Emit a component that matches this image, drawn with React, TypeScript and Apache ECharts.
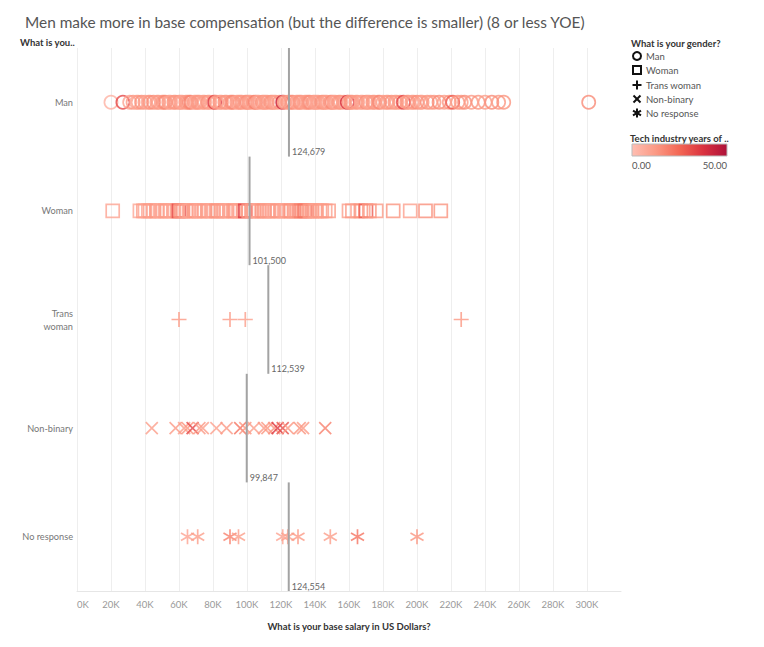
import React, { useEffect, useRef } from "react";
import * as echarts from "echarts";

const TITLE = "Men make more in base compensation (but the difference is smaller) (8 or less YOE)";
const categories = ["Man", "Woman", "Trans\nwoman", "Non-binary", "No response"];
const legendNames = ["Man", "Woman", "Trans woman", "Non-binary", "No response"];

// [salary in US$, tech industry years]
const manData: number[][] = [
  [20000, 4], [27000, 32], [31000, 9], [33000, 12], [35000, 8], [36000, 10], [38000, 14], [40000, 11],
  [42000, 9], [43000, 13], [45000, 15], [47000, 10], [48000, 12], [50000, 9], [51000, 14], [52000, 16],
  [54000, 11], [55000, 9], [57000, 13], [58000, 12], [60000, 14], [61000, 10], [62000, 9], [64000, 12],
  [65000, 11], [66000, 15], [67000, 18], [69000, 10], [70000, 9], [71000, 13], [72000, 12], [74000, 10],
  [75000, 11], [77000, 14], [78000, 9], [80000, 12], [81000, 36], [82000, 11], [84000, 13], [85000, 10],
  [87000, 14], [88000, 12], [90000, 11], [91000, 15], [92000, 16], [94000, 10], [95000, 9], [96000, 13],
  [97000, 12], [99000, 11], [100000, 15], [101000, 12], [102000, 10], [104000, 14], [105000, 19], [106000, 11],
  [107000, 9], [109000, 13], [110000, 12], [111000, 10], [112000, 11], [114000, 14], [115000, 13], [116000, 10],
  [117000, 9], [119000, 12], [121000, 42], [122000, 11], [124000, 13], [125000, 10], [126000, 12], [127000, 15],
  [129000, 11], [130000, 9], [131000, 14], [132000, 12], [134000, 10], [135000, 11], [136000, 13], [137000, 15],
  [139000, 12], [140000, 11], [141000, 9], [142000, 10], [144000, 14], [145000, 13], [146000, 11], [147000, 10],
  [149000, 12], [150000, 16], [151000, 10], [152000, 9], [154000, 13], [155000, 12], [157000, 11], [159000, 38],
  [160000, 10], [161000, 14], [162000, 13], [164000, 11], [165000, 12], [167000, 10], [168000, 9], [170000, 15],
  [171000, 11], [172000, 10], [174000, 13], [175000, 12], [177000, 11], [178000, 17], [180000, 10], [182000, 12],
  [183000, 11], [185000, 14], [187000, 12], [188000, 10], [190000, 13], [192000, 33], [194000, 12], [195000, 13],
  [197000, 10], [198000, 11], [200000, 15], [202000, 12], [203000, 10], [206000, 14], [208000, 11], [210000, 12],
  [213000, 16], [216000, 11], [219000, 13], [221000, 28], [224000, 13], [226000, 11], [228000, 15], [232000, 12],
  [236000, 14], [240000, 11], [244000, 16], [248000, 13], [251000, 14], [301000, 16],
];
const womanData: number[][] = [
  [21000, 9], [37000, 8], [39000, 11], [40000, 10], [42000, 9], [43000, 12], [45000, 10], [47000, 13],
  [49000, 8], [50000, 9], [52000, 11], [53000, 12], [55000, 10], [57000, 9], [59000, 13], [60000, 32],
  [61000, 14], [62000, 15], [64000, 11], [66000, 10], [67000, 9], [69000, 12], [70000, 13], [72000, 10],
  [73000, 9], [75000, 11], [77000, 12], [79000, 10], [80000, 9], [82000, 13], [83000, 14], [85000, 11],
  [86000, 12], [88000, 10], [90000, 9], [92000, 12], [93000, 13], [95000, 10], [96000, 9], [98000, 12],
  [99000, 36], [101000, 13], [103000, 11], [104000, 12], [106000, 10], [107000, 9], [109000, 12], [110000, 14],
  [112000, 11], [113000, 12], [115000, 10], [116000, 9], [118000, 13], [120000, 12], [122000, 10], [123000, 9],
  [125000, 12], [126000, 14], [128000, 11], [129000, 12], [131000, 15], [132000, 18], [134000, 22], [135000, 20],
  [137000, 12], [138000, 13], [140000, 11], [141000, 10], [143000, 12], [144000, 11], [146000, 10], [148000, 12],
  [160000, 11], [162000, 12], [165000, 10], [167000, 14], [170000, 28], [172000, 13], [176000, 12], [186000, 14],
  [196000, 10], [205000, 15], [214000, 14],
];
const transWomanData: number[][] = [[60000, 13], [90000, 12], [99000, 11], [226000, 13]];
const nonBinaryData: number[][] = [
  [44000, 11], [58000, 12], [63000, 11], [65000, 13], [68000, 32], [72000, 12], [74000, 11], [82000, 10],
  [88000, 12], [96000, 22], [99000, 13], [104000, 11], [110000, 12], [112000, 13], [116000, 14], [118000, 36],
  [121000, 30], [124000, 13], [131000, 14], [133000, 12], [146000, 19],
];
const noResponseData: number[][] = [
  [65000, 9], [71000, 11], [90000, 19], [95000, 11], [121000, 9], [124000, 10], [130000, 12],
  [149000, 11], [165000, 22], [200000, 14],
];
const groups = [manData, womanData, transWomanData, nonBinaryData, noResponseData];
const shapes = ["circle", "square", "plus", "cross", "asterisk"];

// reference lines (average per gender)
const refValues = [124679, 101500, 112539, 99847, 124554];

const xTicks = [0, 20000, 40000, 60000, 80000, 100000, 120000, 140000, 160000, 180000, 200000, 220000, 240000, 260000, 280000, 300000];
const palette = ["#ffbeb2", "#fb9984", "#f36754", "#da323f", "#ae123a"];
const FONT = "Lato, 'Noto Sans', sans-serif";

function shapePath(shape: string, cx: number, cy: number, r: number): string {
  if (shape === "plus") return `M${cx - r},${cy}L${cx + r},${cy}M${cx},${cy - r}L${cx},${cy + r}`;
  if (shape === "cross") {
    const d = r * 0.8;
    return `M${cx - d},${cy - d}L${cx + d},${cy + d}M${cx - d},${cy + d}L${cx + d},${cy - d}`;
  }
  const dx = r * 0.87, dy = r * 0.5;
  return `M${cx},${cy - r}L${cx},${cy + r}M${cx - dx},${cy - dy}L${cx + dx},${cy + dy}M${cx - dx},${cy + dy}L${cx + dx},${cy - dy}`;
}

function markerRenderer(shape: string) {
  return (params: any, api: any) => {
    const p = api.coord([api.value(0), api.value(1)]);
    const c = api.visual("color") || "#f36754";
    const style = { fill: "transparent", stroke: c, lineWidth: 1.7, opacity: 0.8 };
    if (shape === "circle") {
      return { type: "circle", shape: { cx: p[0], cy: p[1], r: 6.6 }, style };
    }
    if (shape === "square") {
      return { type: "rect", shape: { x: p[0] - 6.5, y: p[1] - 6.5, width: 13, height: 13 }, style };
    }
    return { type: "path", shape: { pathData: shapePath(shape, p[0], p[1], 7.5) }, style };
  };
}

function refRenderer(params: any, api: any) {
  const v = api.value(0);
  const p = api.coord([v, api.value(1)]);
  const bh = api.size([0, 1])[1];
  return {
    type: "group",
    children: [
      { type: "line", shape: { x1: p[0], y1: p[1] - bh / 2, x2: p[0], y2: p[1] + bh / 2 }, style: { stroke: "#a3a3a3", lineWidth: 2 } },
      {
        type: "text",
        x: p[0] + 3,
        y: p[1] + bh / 2 - 5,
        style: { text: Math.round(v).toLocaleString("en-US"), fill: "#666", fontSize: 9, fontFamily: FONT, verticalAlign: "middle", align: "left" },
      },
    ],
  };
}

export default function App() {
  const ref = useRef<HTMLDivElement>(null);
  useEffect(() => {
    if (!ref.current) return;
    const chart = echarts.init(ref.current, undefined, { renderer: "svg" });
    const markerSeries = groups.map((g, gi) => ({
      type: "custom",
      name: legendNames[gi],
      renderItem: markerRenderer(shapes[gi]),
      data: g.map((d) => [d[0], gi, d[1]]),
      encode: { x: 0, y: 1 },
      z: 2,
    }));
    const splitColors = xTicks.map(() => "#eeeeee");
    splitColors.push("transparent");
    const legendY = [56, 70, 85, 99, 113];
    const legendGraphics: any[] = [];
    legendY.forEach((y, i) => {
      const cx = 637;
      const st = { stroke: "#111", lineWidth: 2, fill: "transparent" };
      if (i === 0) legendGraphics.push({ type: "circle", shape: { cx, cy: y, r: 4 }, style: st });
      else if (i === 1) legendGraphics.push({ type: "rect", shape: { x: cx - 4, y: y - 4, width: 8, height: 8 }, style: st });
      else if (i === 2) {
        legendGraphics.push({ type: "line", shape: { x1: cx - 4.5, y1: y, x2: cx + 4.5, y2: y }, style: st });
        legendGraphics.push({ type: "line", shape: { x1: cx, y1: y - 4.5, x2: cx, y2: y + 4.5 }, style: st });
      } else if (i === 3) {
        legendGraphics.push({ type: "line", shape: { x1: cx - 3.5, y1: y - 3.5, x2: cx + 3.5, y2: y + 3.5 }, style: st });
        legendGraphics.push({ type: "line", shape: { x1: cx - 3.5, y1: y + 3.5, x2: cx + 3.5, y2: y - 3.5 }, style: st });
      } else {
        legendGraphics.push({ type: "line", shape: { x1: cx, y1: y - 4.5, x2: cx, y2: y + 4.5 }, style: st });
        legendGraphics.push({ type: "line", shape: { x1: cx - 4, y1: y - 2.3, x2: cx + 4, y2: y + 2.3 }, style: st });
        legendGraphics.push({ type: "line", shape: { x1: cx - 4, y1: y + 2.3, x2: cx + 4, y2: y - 2.3 }, style: st });
      }
      legendGraphics.push({
        type: "text", x: 646, y,
        style: { text: legendNames[i], fill: "#555", fontSize: 9.5, fontFamily: FONT, verticalAlign: "middle" },
      });
    });

    chart.setOption({
      animation: false,
      backgroundColor: "#ffffff",
      title: {
        text: TITLE, left: 20, top: 9,
        textStyle: { fontSize: 15.4, fontWeight: "normal", color: "#555", fontFamily: FONT },
      },
      grid: { left: 77, right: 143, top: 48, bottom: 56, containLabel: false },
      xAxis: {
        type: "value", min: 0, max: 320000, interval: 20000,
        axisLine: { show: true, lineStyle: { color: "#e6e6e6", width: 1 } },
        axisTick: { show: false },
        splitLine: { show: true, lineStyle: { color: splitColors, width: 1 } },
        axisLabel: {
          color: "#999", fontSize: 9.5, fontFamily: FONT, margin: 8,
          formatter: (v: number) => (xTicks.indexOf(v) >= 0 ? v / 1000 + "K" : ""),
          alignMinLabel: "left",
        },
        name: "What is your base salary in US Dollars?",
        nameLocation: "middle", nameGap: 30,
        nameTextStyle: { fontSize: 9.5, fontWeight: "bold", color: "#333", fontFamily: FONT },
      },
      yAxis: {
        type: "category", data: categories, inverse: true,
        axisLine: { show: false }, axisTick: { show: false }, splitLine: { show: false },
        axisLabel: { color: "#777", fontSize: 9.2, fontFamily: FONT, margin: 4, lineHeight: 13 },
      },
      visualMap: {
        type: "continuous", show: false, dimension: 2, min: 0, max: 50,
        seriesIndex: [0, 1, 2, 3, 4],
        inRange: { color: palette },
      },
      series: [
        ...markerSeries,
        {
          type: "custom",
          renderItem: refRenderer,
          data: refValues.map((v, i) => [v, i]),
          encode: { x: 0, y: 1 },
          z: 5,
        },
      ],
      graphic: [
        { type: "text", left: 20, top: 37, style: { text: "What is you..", fill: "#333", fontSize: 9.5, fontWeight: "bold", fontFamily: FONT } },
        { type: "text", x: 631, y: 43, style: { text: "What is your gender?", fill: "#333", fontSize: 9.5, fontWeight: "bold", fontFamily: FONT, verticalAlign: "middle" } },
        ...legendGraphics,
        { type: "text", x: 630, y: 138, style: { text: "Tech industry years of ..", fill: "#333", fontSize: 9.5, fontWeight: "bold", fontFamily: FONT, verticalAlign: "middle" } },
        {
          type: "rect", shape: { x: 632, y: 144, width: 95, height: 12 },
          style: {
            stroke: "#bbb", lineWidth: 1,
            fill: new echarts.graphic.LinearGradient(0, 0, 1, 0, palette.map((c, i) => ({ offset: i / (palette.length - 1), color: c }))),
          },
        },
        { type: "text", x: 632, y: 165, style: { text: "0.00", fill: "#555", fontSize: 9.5, fontFamily: FONT, verticalAlign: "middle" } },
        { type: "text", x: 727, y: 165, style: { text: "50.00", fill: "#555", fontSize: 9.5, fontFamily: FONT, verticalAlign: "middle", align: "right" } },
      ],
    });
    return () => chart.dispose();
  }, []);
  return <div ref={ref} style={{ position: "absolute", left: 0, top: 0, width: 764, height: 647 }} />;
}
